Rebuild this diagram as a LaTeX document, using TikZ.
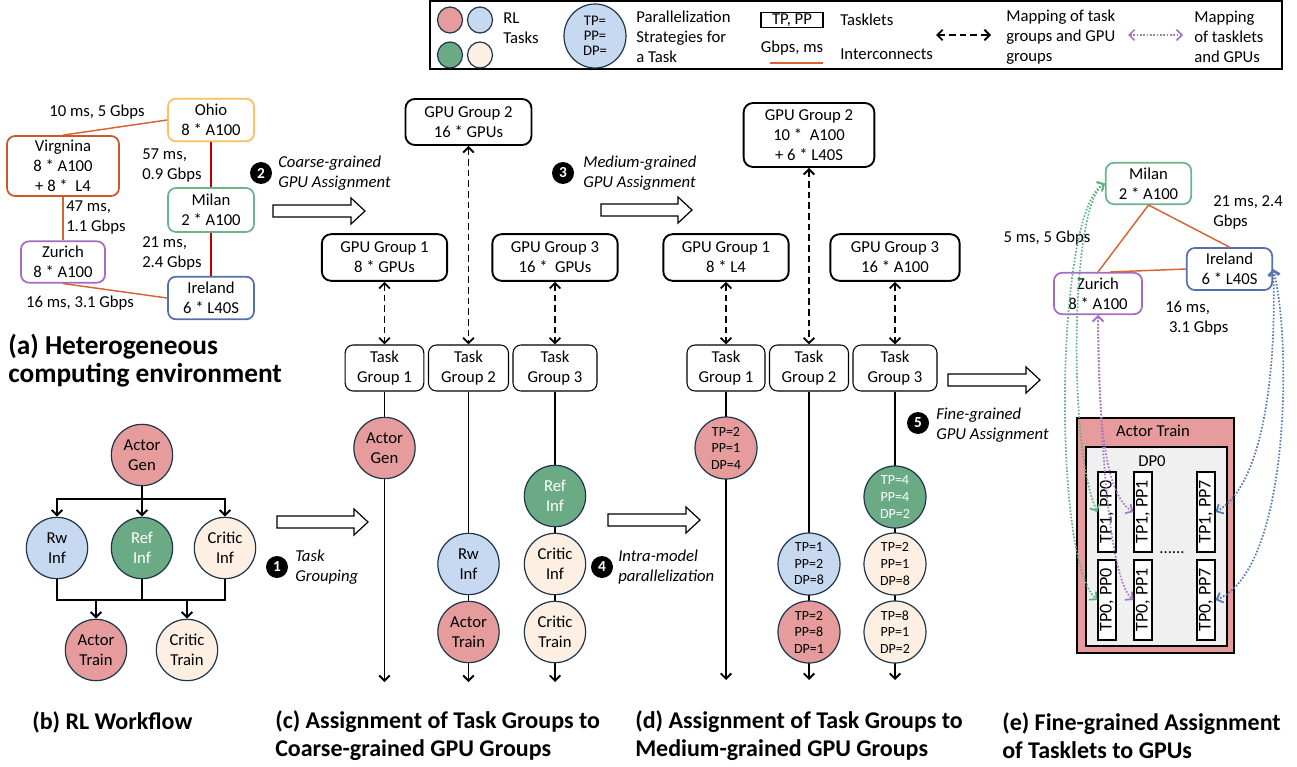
\documentclass[tikz,border=0pt]{standalone}
\usepackage{fontspec}
\setmainfont{Carlito}
\usetikzlibrary{arrows.meta,shapes.geometric,calc}
\definecolor{tred}{HTML}{E69C9C}
\definecolor{tblue}{HTML}{C6D9F0}
\definecolor{tgreen}{HTML}{6AAB86}
\definecolor{tbeige}{HTML}{FDF0E2}
\definecolor{circ}{HTML}{1F3549}
\definecolor{cohio}{HTML}{FFBF5E}
\definecolor{cvirg}{HTML}{C9582B}
\definecolor{cmilan}{HTML}{6BB38A}
\definecolor{czur}{HTML}{A46BC2}
\definecolor{cire}{HTML}{5570AE}
\definecolor{link}{HTML}{D9622F}
\definecolor{linkred}{HTML}{C00000}
\definecolor{dgreen}{HTML}{5DB282}
\definecolor{dpurple}{HTML}{A678C8}
\definecolor{dblue}{HTML}{5577B5}
\definecolor{innerg}{HTML}{F0F0F0}
\newcommand{\blockarr}[3]{\draw[barrow] ({#1},{#3-6}) -- ({#2-14},{#3-6}) -- ({#2-14},{#3-13}) -- ({#2},{#3}) -- ({#2-14},{#3+13}) -- ({#2-14},{#3+6}) -- ({#1},{#3+6}) -- cycle;}
\tikzset{
  every node/.style={font=\fontsize{12.5}{15}\selectfont, inner sep=0pt},
  tipb/.tip={Straight Barb[length=4pt,width=8pt]},
  txt/.style={align=left},
  site/.style={draw, rounded corners=6pt, line width=1.3pt, align=center, fill=white},
  gpu/.style={draw, rounded corners=7pt, line width=1.4pt, align=center, minimum width=94pt, minimum height=35pt},
  tgbox/.style={draw, rounded corners=6pt, line width=0.8pt, align=center, minimum height=34.5pt},
  task/.style={circle, draw=circ, line width=0.9pt, minimum size=46pt, align=center, font=\fontsize{12.5}{15}\selectfont},
  ptask/.style={task, minimum size=46.5pt, font=\fontsize{10.5}{12.4}\selectfont},
  ltask/.style={ellipse, draw=circ, line width=0.9pt, minimum width=18.75pt, minimum height=19.5pt},
  num/.style={circle, fill=black, text=white, minimum size=16.5pt, font=\bfseries\fontsize{11.5}{11.5}\selectfont},
  stepl/.style={align=left, font=\itshape\fontsize{12.5}{15}\selectfont},
  barrow/.style={draw=black, fill=white, line width=0.9pt},
  flow/.style={line width=1.4pt, -tipb},
  bflow/.style={line width=1.5pt},
  mapar/.style={line width=1.4pt, dash pattern=on 5pt off 3pt, tipb-tipb},
  gdot/.style={dgreen, line width=1.3pt, dash pattern=on 1.2pt off 1.3pt, tipb-tipb},
  pdot/.style={dpurple, line width=1.3pt, dash pattern=on 1.2pt off 1.3pt, tipb-tipb},
  bdot/.style={dblue, line width=1.3pt, dash pattern=on 1.2pt off 1.3pt, tipb-tipb},
  capa/.style={align=left, font=\bfseries\fontsize{20.5}{21}\selectfont},
  captxt/.style={align=left, font=\bfseries\fontsize{18}{21}\selectfont},
  tasklet/.style={draw, line width=0.9pt, fill=white, rotate=90, minimum width=60pt, minimum height=13.5pt, font=\fontsize{13.5}{14}\selectfont},
}
\begin{document}
\begin{tikzpicture}[x=0.75pt,y=-0.75pt]
\useasboundingbox (0,0) rectangle (1297,767);

% ---------------- legend ----------------
\node[draw, line width=0.9pt, minimum width=639pt, minimum height=51pt] (legend) at (856,35) {};
\node[ltask, fill=tred] (lr) at (450,20) {};
\node[ltask, fill=tblue] (lb) at (480,20) {};
\node[ltask, fill=tgreen] (lg) at (450,55) {};
\node[ltask, fill=tbeige] (lbe) at (480,55) {};
\node[txt, anchor=west] (lrl) at (503,28) {RL\\Tasks};
\node[ellipse, draw=circ, line width=0.9pt, fill=tblue, minimum width=46.5pt, minimum height=48pt, align=center, font=\fontsize{11}{11.4}\selectfont] (lps) at (595,36) {TP=\\PP=\\DP=};
\node[txt, anchor=west] (lpst) at (636,37) {Parallelization\\Strategies for\\a Task};
\node[draw, line width=0.9pt, minimum width=46.5pt, minimum height=11pt] (ltk) at (792,20) {TP, PP};
\node[anchor=west] (ltkl) at (840,20) {Tasklets};
\node (lic) at (792,48) {Gbps, ms};
\coordinate (lia) at (770,63);
\coordinate (lib) at (823,63);
\draw[link, line width=1.2pt] (lia) -- (lib);
\node[anchor=west] (licl) at (840,54) {Interconnects};
\coordinate (lda) at (936,35);
\coordinate (ldb) at (991,35);
\draw[mapar] (lda) -- (ldb);
\node[txt, anchor=west] (ldt) at (1006,37) {Mapping of task\\groups and GPU\\groups};
\coordinate (lpa) at (1128,35);
\coordinate (lpb) at (1183,35);
\draw[pdot] (lpa) -- (lpb);
\node[txt, anchor=west] (lpt) at (1194,37) {Mapping\\of tasklets\\and GPUs};

% ---------------- (a) ----------------
\node[site, draw=cohio, minimum width=64.5pt, minimum height=32pt] (ohio) at (211,120) {Ohio\\8 * A100};
\node[site, draw=cvirg, minimum width=84pt, minimum height=45pt] (virg) at (63,166) {Virgnina\\8 * A100\\+ 8 *~ L4};
\node[site, draw=cmilan, minimum width=64.5pt, minimum height=33pt] (milan) at (211,210) {Milan\\2 * A100};
\node[site, draw=czur, minimum width=63pt, minimum height=31pt] (zur) at (63,262) {Zurich\\8 * A100};
\node[site, draw=cire, minimum width=64.5pt, minimum height=32pt] (ire) at (211,298) {Ireland\\6 * L40S};
\draw[link, line width=1.1pt] (ohio.west) -- (virg.north);
\draw[linkred, line width=1.1pt] (ohio.south) -- (milan.north);
\draw[linkred, line width=1.1pt] (milan.south) -- (ire.north);
\draw[link, line width=1.1pt] (virg.south) -- (zur.north);
\draw[link, line width=1.1pt] (zur.south) -- (ire.west);
\node (la1) at (97,112) {10 ms, 5 Gbps};
\node[txt, anchor=west] (la2) at (142,165) {57 ms,\\0.9 Gbps};
\node[txt, anchor=west] (la3) at (66,217) {47 ms,\\1.1 Gbps};
\node[txt, anchor=west] (la4) at (142,253) {21 ms,\\2.4 Gbps};
\node (la5) at (80,303) {16 ms, 3.1 Gbps};
\node[capa, anchor=west] (capa) at (8,361) {(a) Heterogeneous\\computing environment};

% ---------------- (b) ----------------
\node[task, fill=tred] (bAG) at (142,455) {Actor\\Gen};
\node[task, fill=tblue] (bRw) at (57,548) {Rw\\Inf};
\node[task, fill=tgreen, text=white] (bRef) at (142,548) {Ref\\Inf};
\node[task, fill=tbeige] (bCI) at (225,548) {Critic\\Inf};
\node[task, fill=tred] (bAT) at (96,650) {Actor\\Train};
\node[task, fill=tbeige] (bCT) at (187,650) {Critic\\Train};
\coordinate (bs) at (142,499);
\coordinate (bm) at (142,600);
\draw[bflow] (bAG.south) -- (bs);
\draw[bflow, -tipb] (bs) -| (bRw.north);
\draw[bflow, -tipb] (bs) -| (bCI.north);
\draw[bflow, -tipb] (bs) -- (bRef.north);
\draw[bflow] (bRw.south) |- (bm);
\draw[bflow] (bCI.south) |- (bm);
\draw[bflow] (bRef.south) -- (bm);
\draw[bflow, -tipb] (bm) -| (bAT.north);
\draw[bflow, -tipb] (bm) -| (bCT.north);
\node[captxt, anchor=west] (capb) at (32,722) {(b) RL Workflow};

% ---------------- steps ----------------
\blockarr{277}{368}{522}
\blockarr{273}{365}{211}
\blockarr{601}{692}{210}
\blockarr{608}{700}{520}
\blockarr{948}{1040}{380}
\node[num] (n1) at (277,567) {1};
\node[stepl, anchor=west] (s1) at (295,567) {Task\\Grouping};
\node[num] (n2) at (261,173) {2};
\node[stepl, anchor=west] (s2) at (278,173) {Coarse-grained\\GPU Assignment};
\node[num] (n3) at (563,173) {3};
\node[stepl, anchor=west] (s3) at (583,173) {Medium-grained\\GPU Assignment};
\node[num] (n4) at (602,567) {4};
\node[stepl, anchor=west] (s4) at (618,567) {Intra-model\\parallelization};
\node[num] (n5) at (918,423) {5};
\node[stepl, anchor=west] (s5) at (936,425) {Fine-grained\\GPU Assignment};

% ---------------- (c) ----------------
\node[gpu, minimum width=94.5pt, minimum height=34.5pt] (gg2c) at (468.5,122) {GPU Group 2\\16 * GPUs};
\node[gpu] (gg1c) at (384.5,257.5) {GPU Group 1\\8 * GPUs};
\node[gpu] (gg3c) at (555,257.5) {GPU Group 3\\16 *~ GPUs};
\node[tgbox, minimum width=59pt] (tg1c) at (384.5,368) {Task\\Group 1};
\node[tgbox, minimum width=60pt] (tg2c) at (468.5,368) {Task\\Group 2};
\node[tgbox, minimum width=63pt] (tg3c) at (555,368) {Task\\Group 3};
\draw[mapar] (gg1c.south) -- (tg1c.north);
\draw[mapar] (gg2c.south) -- (tg2c.north);
\draw[mapar] (gg3c.south) -- (tg3c.north);
\coordinate (e1c) at (384.5,682);
\coordinate (e2c) at (468.5,682);
\coordinate (e3c) at (555,682);
\draw[flow] (tg1c.south) -- (e1c);
\draw[flow] (tg2c.south) -- (e2c);
\draw[flow] (tg3c.south) -- (e3c);
\node[task, fill=tred] (cAG) at (384.5,448) {Actor\\Gen};
\node[task, fill=tblue] (cRw) at (468.5,564) {Rw\\Inf};
\node[task, fill=tred] (cAT) at (468.5,632) {Actor\\Train};
\node[task, fill=tgreen, text=white] (cRef) at (555,496) {Ref\\Inf};
\node[task, fill=tbeige] (cCI) at (555,564) {Critic\\Inf};
\node[task, fill=tbeige] (cCT) at (555,632) {Critic\\Train};
\node[captxt, anchor=west] (capc) at (275,736) {(c) Assignment of Task Groups to\\Coarse-grained GPU Groups};

% ---------------- (d) ----------------
\node[gpu, minimum width=98pt, minimum height=48pt] (gg2d) at (809,135) {GPU Group 2\\10 *~ A100\\+ 6 * L40S};
\node[gpu] (gg1d) at (726,257.5) {GPU Group 1\\8 * L4};
\node[gpu, minimum width=97pt] (gg3d) at (895,257.5) {GPU Group 3\\16 * A100};
\node[tgbox, minimum width=58.5pt] (tg1d) at (726,368) {Task\\Group 1};
\node[tgbox, minimum width=59.25pt] (tg2d) at (809,368) {Task\\Group 2};
\node[tgbox, minimum width=63pt] (tg3d) at (895,368) {Task\\Group 3};
\draw[mapar] (gg1d.south) -- (tg1d.north);
\draw[mapar] (gg2d.south) -- (tg2d.north);
\draw[mapar] (gg3d.south) -- (tg3d.north);
\coordinate (e1d) at (726,680);
\coordinate (e2d) at (809,680);
\coordinate (e3d) at (895,680);
\draw[flow] (tg1d.south) -- (e1d);
\draw[flow] (tg2d.south) -- (e2d);
\draw[flow] (tg3d.south) -- (e3d);
\node[ptask, fill=tred] (d1) at (726,448) {TP=2\\PP=1\\DP=4};
\node[ptask, fill=tblue] (d2) at (809,564) {TP=1\\PP=2\\DP=8};
\node[ptask, fill=tred] (d3) at (809,632) {TP=2\\PP=8\\DP=1};
\node[ptask, fill=tgreen, text=white] (d4) at (895,497) {TP=4\\PP=4\\DP=2};
\node[ptask, fill=tbeige] (d5) at (895,564) {TP=2\\PP=1\\DP=8};
\node[ptask, fill=tbeige] (d6) at (895,632) {TP=8\\PP=1\\DP=2};
\node[captxt, anchor=west] (capd) at (635,736) {(d) Assignment of Task Groups to\\Medium-grained GPU Groups};

% ---------------- (e) ----------------
\node[site, draw=cmilan, minimum width=64pt, minimum height=31pt] (milanE) at (1148.5,183.5) {Milan\\2 * A100};
\node[site, draw=czur, minimum width=66pt, minimum height=31pt] (zurE) at (1098,293.5) {Zurich\\8 * A100};
\node[site, draw=cire, minimum width=64pt, minimum height=31.5pt] (ireE) at (1229.5,269) {Ireland\\6 * L40S};
\draw[link, line width=1.1pt] (milanE.south) -- (zurE.north);
\draw[link, line width=1.1pt] (milanE.south) -- (ireE.north);
\draw[link, line width=1.1pt] (zurE.60) -- (ireE.west);
\node (le1) at (1047,238) {5 ms, 5 Gbps};
\node[txt, anchor=west] (le2) at (1213,212) {21 ms, 2.4\\Gbps};
\node[txt, anchor=west] (le3) at (1165,318) {16 ms,\\~3.1 Gbps};

\node[draw, line width=1.1pt, fill=tred, minimum width=117.75pt, minimum height=176.25pt] (atbox) at (1155.5,535.5) {};
\node (attl) at (1153,431) {Actor Train};
\node[draw, line width=0.9pt, fill=innerg, minimum width=105.75pt, minimum height=149.25pt] (dpbox) at (1156.5,546.5) {};
\node (dpl) at (1152,461) {DP0};
\node[tasklet] (t10) at (1107,512) {TP1, PP0};
\node[tasklet] (t11) at (1143,512) {TP1, PP1};
\node[tasklet] (t17) at (1206,512) {TP1, PP7};
\node[tasklet] (t00) at (1107,600) {TP0, PP0};
\node[tasklet] (t01) at (1143,600) {TP0, PP1};
\node[tasklet] (t07) at (1206,600) {TP0, PP7};
\node (dots) at (1172,553) {......};

\draw[gdot] (milanE.west) .. controls (1070,205) and (1068,450) .. (t10.north);
\draw[gdot] (milanE.west) .. controls (1055,210) and (1052,560) .. (t00.north);
\draw[pdot] (zurE.south) .. controls (1098,420) and (1105,495) .. (t11.north);
\draw[pdot] (zurE.south) .. controls (1100,450) and (1110,580) .. (t01.north);
\draw[bdot] (ireE.east) .. controls (1276,330) and (1272,480) .. (t17.south);
\draw[bdot] (ireE.east) .. controls (1292,340) and (1290,570) .. (t07.south);

\node[captxt, anchor=west] (cape) at (1002,736) {(e) Fine-grained Assignment\\of Tasklets to GPUs};
\end{tikzpicture}
\end{document}
